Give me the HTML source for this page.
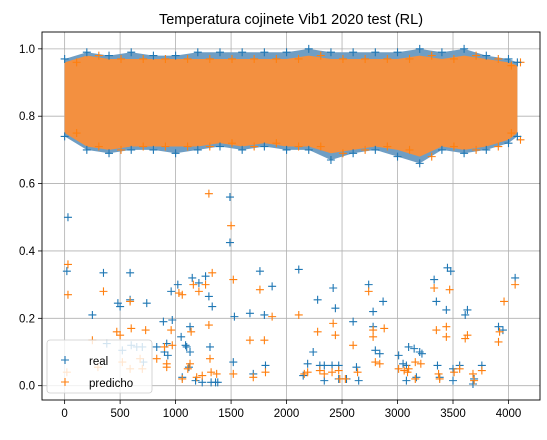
<!DOCTYPE html>
<html><head><meta charset="utf-8"><style>
body{margin:0;background:#fff;width:547px;height:435px;overflow:hidden}
svg{font-family:"Liberation Sans","DejaVu Sans",sans-serif}
</style></head><body>
<svg id="chart" width="547" height="435" viewBox="0 0 547 435">
<text x="291" y="24" font-size="14.5" text-anchor="middle" fill="#000">Temperatura cojinete Vib1 2020 test (RL)</text>
<g id="grid"></g>
<g id="band"></g>
<g id="marks"></g>
<g id="axes"></g>
</svg>
<script>
const bandX=[0,200,400,600,800,1000,1200,1400,1600,1800,2000,2200,2400,2600,2800,3000,3200,3400,3600,3800,4000,4080];
const realLow=[0.74,0.70,0.69,0.70,0.70,0.69,0.70,0.71,0.70,0.71,0.70,0.70,0.67,0.69,0.70,0.68,0.66,0.70,0.69,0.70,0.72,0.74];
const realHigh=[0.97,0.99,0.98,0.99,0.98,0.98,0.99,0.99,0.99,0.99,0.99,1.0,0.99,0.99,0.99,0.99,1.0,0.99,1.0,0.98,0.97,0.96];
const predLow=[0.75,0.71,0.70,0.71,0.71,0.71,0.71,0.72,0.71,0.72,0.71,0.71,0.69,0.70,0.71,0.70,0.68,0.71,0.70,0.71,0.73,0.75];
const predHigh=[0.96,0.98,0.97,0.97,0.97,0.97,0.97,0.97,0.97,0.97,0.97,0.98,0.97,0.97,0.97,0.97,0.98,0.97,0.98,0.97,0.96,0.95];
const realX=[20,30,250,350,380,480,500,520,590,590,600,650,700,740,710,830,890,900,930,920,960,970,1020,1050,1090,1100,1130,1130,1150,1120,1060,1180,1210,1240,1270,1300,1310,1330,1320,1360,1380,1490,1490,1530,1520,1670,1700,1760,1800,1810,1870,2110,2150,2190,2240,2280,2300,2340,2340,2410,2420,2440,2470,2470,2540,2600,2630,2650,2740,2780,2780,2800,2840,2870,3010,3050,3080,3080,3100,3150,3170,3200,3220,3330,3350,3360,3380,3440,3450,3480,3500,3500,3560,3610,3630,3680,3690,3760,3910,3950,4060];
const realY=[0.34,0.5,0.21,0.335,0.125,0.245,0.235,0.105,0.335,0.255,0.12,0.115,0.115,0.245,0.07,0.115,0.19,0.1,0.09,0.125,0.28,0.195,0.3,0.145,0.12,0.115,0.175,0.1,0.32,0.055,0.025,0.015,0.305,0.01,0.325,0.265,0.115,0.235,0.01,0.01,0.01,0.425,0.56,0.205,0.07,0.215,0.035,0.34,0.21,0.06,0.295,0.345,0.03,0.065,0.1,0.255,0.06,0.06,0.015,0.06,0.29,0.23,0.06,0.02,0.02,0.19,0.055,0.015,0.3,0.22,0.175,0.105,0.095,0.25,0.09,0.065,0.06,0.015,0.115,0.11,0.025,0.1,0.095,0.315,0.25,0.06,0.025,0.225,0.35,0.34,0.05,0.015,0.06,0.21,0.225,0.005,0.02,0.06,0.175,0.165,0.32];
const predX=[30,30,20,250,350,300,470,500,590,600,520,590,680,730,700,830,900,920,920,960,970,1030,1060,1060,1110,1130,1140,1160,1190,1210,1240,1270,1300,1310,1320,1330,1370,1500,1520,1520,1300,1670,1700,1760,1800,1810,1870,2110,2160,2190,2280,2300,2340,2410,2420,2440,2470,2480,2530,2600,2640,2740,2780,2780,2800,2840,2880,3010,3060,3090,3100,3160,3160,3210,3330,3350,3370,3380,3440,3440,3470,3510,3560,3610,3630,3680,3690,3760,3910,3920,3960,4060];
const predY=[0.36,0.27,0.04,0.135,0.28,0.055,0.16,0.15,0.25,0.17,0.07,0.05,0.08,0.165,0.05,0.08,0.115,0.065,0.055,0.165,0.12,0.275,0.27,0.02,0.05,0.065,0.16,0.3,0.025,0.28,0.03,0.3,0.18,0.08,0.04,0.335,0.035,0.475,0.315,0.035,0.57,0.135,0.025,0.285,0.135,0.04,0.205,0.21,0.035,0.04,0.16,0.045,0.035,0.04,0.185,0.15,0.045,0.02,0.02,0.12,0.04,0.28,0.165,0.145,0.07,0.065,0.17,0.05,0.045,0.04,0.05,0.07,0.02,0.065,0.29,0.165,0.035,0.02,0.175,0.145,0.285,0.04,0.05,0.14,0.15,0.035,0.015,0.045,0.13,0.16,0.25,0.3];
const xTicks=[0,500,1000,1500,2000,2500,3000,3500,4000];
const yTicks=[0,0.2,0.4,0.6,0.8,1.0];

const L=42,R=540,T=32,B=400;
const xMin=-204,xMax=4284,yMin=-0.0425,yMax=1.05;
const sx=v=>L+(v-xMin)/(xMax-xMin)*(R-L);
const sy=v=>B-(v-yMin)/(yMax-yMin)*(B-T);
const NS='http://www.w3.org/2000/svg';
function mk(tag,attrs,parent){const e=document.createElementNS(NS,tag);for(const k in attrs)e.setAttribute(k,attrs[k]);parent.appendChild(e);return e;}
const grid=document.getElementById('grid'),band=document.getElementById('band'),marks=document.getElementById('marks'),axes=document.getElementById('axes');
xTicks.forEach(t=>{const l=mk('line',{x1:sx(t),x2:sx(t),y1:T,y2:B,stroke:'#b0b0b0','stroke-width':0.8},grid);

});
yTicks.forEach(t=>{const l=mk('line',{x1:L,x2:R,y1:sy(t),y2:sy(t),stroke:'#b0b0b0','stroke-width':0.8},grid);

});
function area(low,high,color,name){let d='M'+bandX.map((x,i)=>sx(x)+','+sy(high[i])).join('L');
for(let i=bandX.length-1;i>=0;i--)d+='L'+sx(bandX[i])+','+sy(low[i]);
const p=mk('path',{d:d+'Z',fill:color},band);

}
function plus(x,y,color,g){const s=4;mk('path',{d:`M${x-s},${y}H${x+s}M${x},${y-s}V${y+s}`,stroke:color,'stroke-width':1.1,fill:'none'},g);}
area(realLow,realHigh,'#6f9ec4','real-band');
area(predLow,predHigh,'#f39040','predicho-band');
bandX.forEach((x,i)=>{const g=mk('g',{},band);


const off=i<bandX.length-1?12:-6;
plus(sx(x),sy(realHigh[i]),'#1f77b4',g);plus(sx(x),sy(realLow[i]),'#1f77b4',g);
plus(sx(x)+off,sy(predHigh[i]),'#ff7f0e',g);plus(sx(x)+off,sy(predLow[i]),'#ff7f0e',g);});
realX.forEach((x,i)=>{const g=mk('g',{},marks);


plus(sx(x),sy(realY[i]),'#1f77b4',g);});
predX.forEach((x,i)=>{const g=mk('g',{},marks);


plus(sx(x),sy(predY[i]),'#ff7f0e',g);});
mk('rect',{x:L,y:T,width:R-L,height:B-T,fill:'none',stroke:'#000','stroke-width':0.9},axes);
xTicks.forEach(t=>{mk('line',{x1:sx(t),x2:sx(t),y1:B,y2:B+4,stroke:'#000','stroke-width':0.8},axes);
const tx=mk('text',{x:sx(t),y:B+17,'font-size':11.5,'text-anchor':'middle'},axes);tx.textContent=t;

});
yTicks.forEach(t=>{mk('line',{x1:L-4,x2:L,y1:sy(t),y2:sy(t),stroke:'#000','stroke-width':0.8},axes);
const tx=mk('text',{x:L-7,y:sy(t)+4,'font-size':11.5,'text-anchor':'end'},axes);tx.textContent=t.toFixed(1);

});
const lg=mk('g',{},axes);


mk('rect',{x:47,y:340,width:105,height:53,rx:3,fill:'#fff','fill-opacity':0.8,stroke:'#ccc','stroke-width':0.8},lg);
plus(65,360,'#1f77b4',lg);plus(65,382,'#ff7f0e',lg);
const t1=mk('text',{x:89,y:365,'font-size':11.5},lg);t1.textContent='real';


const t2=mk('text',{x:89,y:387,'font-size':11.5},lg);t2.textContent='predicho';


</script>
</body></html>
